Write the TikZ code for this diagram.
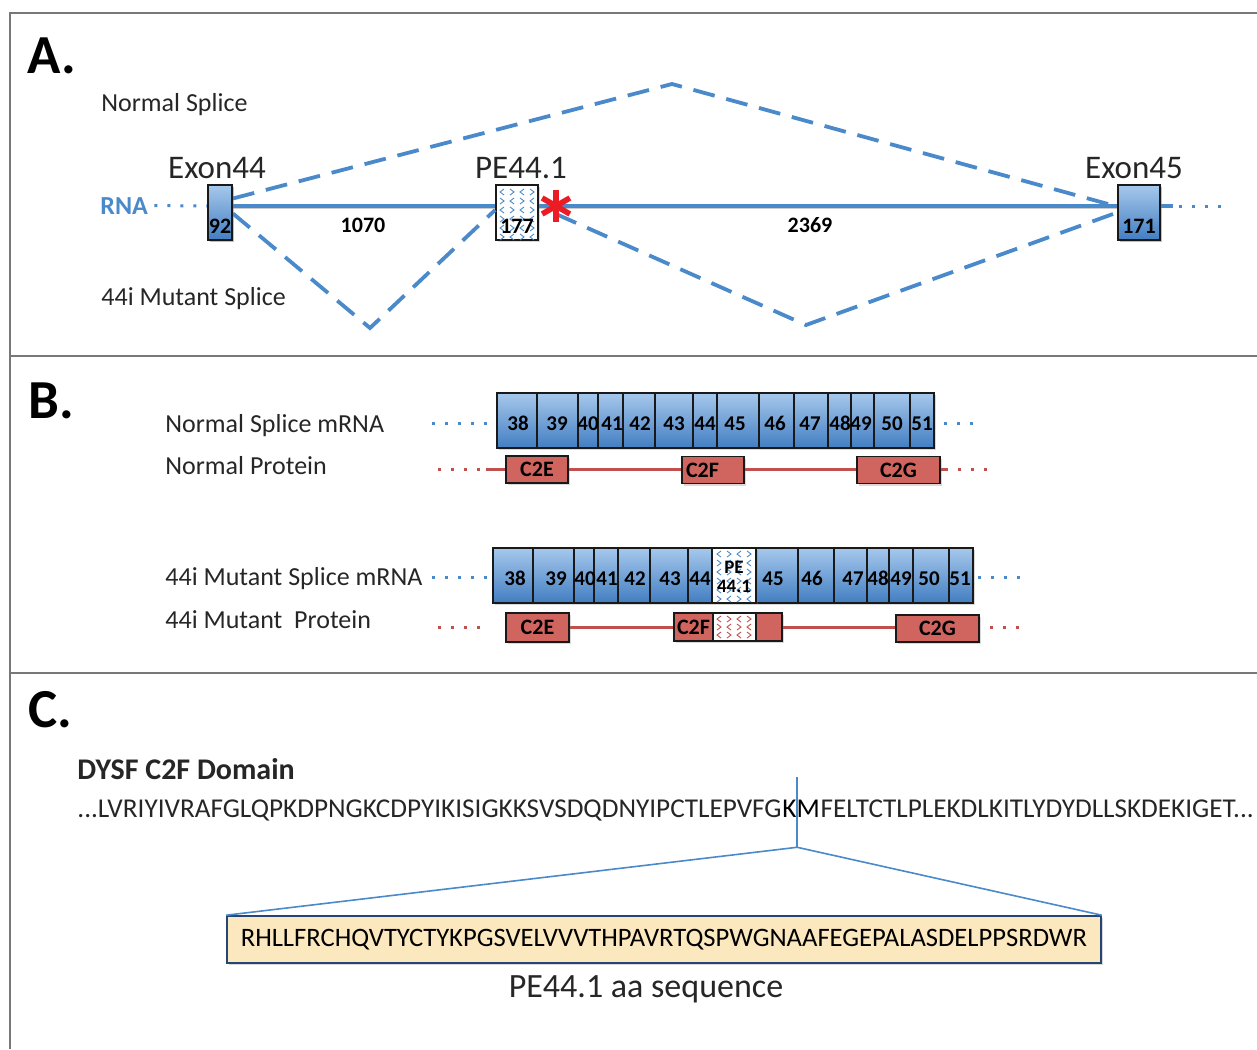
\documentclass[tikz,border=0pt]{standalone}
\usepackage{fontspec}
\setmainfont{Carlito}
\usetikzlibrary{shadows}

\definecolor{rnablue}{RGB}{74,138,202}
\definecolor{exontop}{RGB}{166,200,236}
\definecolor{exonbot}{RGB}{66,126,194}
\definecolor{domred}{RGB}{208,100,94}
\definecolor{bbred}{RGB}{192,80,77}
\definecolor{starred}{RGB}{236,28,36}
\definecolor{framegray}{RGB}{120,120,120}
\definecolor{aafill}{RGB}{252,232,190}
\definecolor{aaedge}{RGB}{38,68,118}
\definecolor{txt}{RGB}{38,38,38}

\tikzset{
  exon/.style={draw=black!90, line width=0.9pt, top color=exontop, bottom color=exonbot,
    drop shadow={shadow xshift=1pt, shadow yshift=-1pt, opacity=.3}},
  pebox/.style={draw=black!90, line width=0.9pt, fill=white,
    drop shadow={shadow xshift=1pt, shadow yshift=-1pt, opacity=.3}},
  dombox/.style={draw=black!90, line width=0.9pt, fill=domred,
    font=\fontsize{11}{13}\selectfont\bfseries, text=black,
    drop shadow={shadow xshift=1pt, shadow yshift=-1pt, opacity=.3}},
  splice/.style={rnablue, line width=1.9pt, dash pattern=on 11pt off 6pt},
  rnaline/.style={rnablue, line width=1.7pt},
  bluedots/.style={rnablue, line width=1.5pt, dash pattern=on 1.5pt off 5pt},
  reddots/.style={bbred, line width=1.5pt, dash pattern=on 1.5pt off 5pt},
  backbone/.style={bbred, line width=1.5pt},
  chev/.style={line width=0.45pt},
  num/.style={anchor=base, font=\fontsize{10.5}{12}\selectfont\bfseries, text=black},
  lab/.style={anchor=base west, font=\fontsize{13}{15}\selectfont},
  exlab/.style={anchor=base, font=\fontsize{16.5}{19}\selectfont},
  panel/.style={anchor=base west, font=\fontsize{27.5}{30}\selectfont\bfseries, text=black},
  seq/.style={anchor=base west, font=\fontsize{13.6}{16}\selectfont},
  frame/.style={framegray, line width=1pt}
}

\begin{document}
\begin{tikzpicture}[x=0.5pt, y=-0.5pt, every node/.style={inner sep=0pt, text=txt}]
\useasboundingbox (0,0) rectangle (1257,1049);

% outer frame and panel rules
\draw[frame] (10,1049) -- (10,13) -- (1257,13);
\draw[frame] (10,356) -- (1257,356);
\draw[frame] (10,673) -- (1257,673);

% ---------- A ----------
\path (27,73) node[panel] (pa) {A.};
\path (101,111) node[lab] (ns) {Normal Splice};
\path (101,305) node[lab] (ms) {44i Mutant Splice};

\path (220,212.5) node[exon, minimum width=12pt, minimum height=27.5pt] (e44) {};
\path (517,212.5) node[pebox, minimum width=21pt, minimum height=27.5pt] (pe) {};
\path (1139,212.5) node[exon, minimum width=21pt, minimum height=27.5pt] (e45) {};
\coordinate (up) at (672,84);
\coordinate (dn1) at (370,328);
\coordinate (dn2) at (806,325);
\coordinate (mut) at (556,206);
\coordinate (rnaend) at (1222,206);

% splice junctions
\draw[splice] ([yshift=7pt]e44.east) -- (up) -- ([yshift=3pt]e45.west);
\draw[splice] ([yshift=-0.5pt]e44.east) -- (dn1) -- ([yshift=1.25pt]pe.west);
\draw[splice] ([yshift=-4pt]mut) -- (dn2) -- ([yshift=0pt]e45.west);

% pre-mRNA strand
\path (100,214) node[anchor=base west, font=\fontsize{13}{15}\selectfont\bfseries, text=rnablue] (rna) {RNA};
\draw[bluedots] ([xshift=3pt]rna.east) -- ([yshift=3.25pt]e44.west);
\draw[black!40, line width=1.5pt, opacity=.5] ([yshift=2.4pt]e44.east) -- ([yshift=2.4pt]pe.west);
\draw[black!40, line width=1.5pt, opacity=.5] ([yshift=2.4pt]pe.east) -- ([yshift=2.4pt]e45.west);
\draw[rnaline] ([yshift=3.25pt]e44.east) -- ([yshift=3.25pt]pe.west);
\draw[rnaline] ([yshift=3.25pt]pe.east) -- ([yshift=3.25pt]e45.west);
\draw[rnaline] ([yshift=3.25pt]e45.east) -- +(6pt,0);
\draw[bluedots] ([xshift=9pt,yshift=3.25pt]e45.east) -- (rnaend);
\path (e44) node[exon, minimum width=12pt, minimum height=27.5pt] (e44b) {};
\path (e45) node[exon, minimum width=21pt, minimum height=27.5pt] (e45b) {};

% PE44.1 fill
\foreach \i in {0,...,3} \foreach \j in {0,...,5} {
  \pgfmathsetmacro\s{ifthenelse(mod(\i+\j,2)==0,1,-1)}
  \draw[chev, rnablue] ({502+10*\i+2*\s},{189+9*\j}) -- ++({-4*\s},3) -- ++({4*\s},3);
}

\path (220,233) node[num, font=\fontsize{11}{13}\selectfont\bfseries] (l92) {92};
\path (517,233) node[num, font=\fontsize{11}{13}\selectfont\bfseries] (l177) {177};
\path (1139,233) node[num, font=\fontsize{11}{13}\selectfont\bfseries] (l171) {171};
\path (217,178) node[exlab] (t44) {Exon44};
\path (521,178) node[exlab] (tpe) {PE44.1};
\path (1134,178) node[exlab] (t45) {Exon45};
\path (363,232) node[num, font=\fontsize{11}{13}\selectfont\bfseries] (i1) {1070};
\path (810,232) node[num, font=\fontsize{11}{13}\selectfont\bfseries] (i2) {2369};

% stop codon mark
\foreach \a in {90,30,150}
  \draw[starred, line width=2.8pt] ([shift=(\a:8pt)]mut) -- ([shift=(\a+180:8pt)]mut);

% ---------- B ----------
\path (28,418) node[panel] (pb) {B.};
\path (165,432) node[lab] (nm) {Normal Splice mRNA};
\path (165,474) node[lab] (np) {Normal Protein};
\path (165,585) node[lab] (mm) {44i Mutant Splice mRNA};
\path (165,628) node[lab] (mp) {44i Mutant\ \ Protein};

% normal mRNA
\draw[bluedots] (432,423) -- (495,423);
\draw[bluedots] (944,423) -- (982,423);
\foreach \a/\b in {497/537, 537/578, 578/598, 598/623, 623/655, 655/693, 693/717,
                   717/759, 759/794, 794/828, 828/851, 851/874, 874/910, 910/934}
  \draw[exon] (\a,393) rectangle (\b,448);
\foreach \x/\l in {518/38, 557/39, 588/40, 612/41, 640/42, 674/43, 705/44, 735/45,
                   775/46, 810/47, 840/48, 861/49, 892/50, 922/51}
  \path (\x,430) node[num] (nb\l) {\l};

% normal protein
\draw[reddots] (438,469) -- (484,469);
\draw[backbone] (486,469) -- (948,469);
\draw[reddots] (958,469) -- (992,469);
\path (537,469.5) node[dombox, minimum width=31pt, minimum height=13.5pt] (ne) {C2E};
\path (713,470) node[dombox, minimum width=31pt, minimum height=13.5pt, text width=27pt, align=left] (nf) {C2F};
\path (898.5,470) node[dombox, minimum width=41.5pt, minimum height=13.5pt] (ng) {C2G};

% mutant mRNA
\draw[bluedots] (432,577) -- (490,577);
\draw[bluedots] (978,577) -- (1025,577);
\foreach \a/\b in {493/533, 533/574, 574/594, 594/618, 618/650, 650/688, 688/712,
                   756/798, 798/834, 834/867, 867/889, 889/913, 913/949, 949/973}
  \draw[exon] (\a,548) rectangle (\b,603);
\draw[pebox] (712,548) rectangle (756,603);
\foreach \i in {0,...,3} \foreach \j in {0,...,5} {
  \pgfmathsetmacro\s{ifthenelse(mod(\i+\j,2)==0,1,-1)}
  \draw[chev, rnablue] ({719+10*\i+2*\s},{551+9*\j}) -- ++({-4*\s},3) -- ++({4*\s},3);
}
\foreach \x/\l in {515/38, 556/39, 585/40, 607/41, 635/42, 670/43, 700/44, 773/45,
                   812/46, 853/47, 878/48, 901/49, 929/50, 960/51}
  \path (\x,585) node[num] (mb\l) {\l};
\path (734,577) node[num, anchor=center, align=center, font=\fontsize{9.5}{9.5}\selectfont\bfseries] (mpe) {PE\\44.1};

% mutant protein
\draw[reddots] (438,627) -- (486,627);
\draw[backbone] (569,627) -- (896,627);
\draw[reddots] (990,627) -- (1026,627);
\path (537.5,627.5) node[dombox, minimum width=31.5pt, minimum height=14.5pt] (me) {C2E};
\path (693.5,627) node[dombox, minimum width=19.5pt, minimum height=14pt] (mf) {C2F};
\draw[pebox] (713,613) rectangle (756,641);
\foreach \i in {0,...,3} \foreach \j in {0,...,2} {
  \pgfmathsetmacro\s{ifthenelse(mod(\i+\j,2)==0,1,-1)}
  \draw[chev, bbred] ({719+10*\i+2*\s},{616+8*\j}) -- ++({-4*\s},3) -- ++({4*\s},3);
}
\draw[dombox] (756,613) rectangle (782,641);
\path (937.5,628.5) node[dombox, minimum width=41.5pt, minimum height=13.5pt] (mg) {C2G};

% ---------- C ----------
\path (28,727) node[panel] (pc) {C.};
\path (77,779) node[anchor=base west, font=\fontsize{15}{17}\selectfont\bfseries] (dom) {DYSF C2F Domain};
\path (77,817) node[seq] (s1) {...LVRIYIVRAFGLQPKDPNGKCDPYIKISIGKKSVSDQDNYIPCTLEPVFG};
\path (s1.base east) node[seq, text=black] (km) {KM};
\path (km.base east) node[seq] (s2) {FELTCTLPLEKDLKITLYDYDLLSKDEKIGET...};

\path (664,939.5) node[draw=aaedge, line width=0.8pt, fill=aafill, minimum width=437pt, minimum height=23.5pt,
  font=\fontsize{13.3}{15}\selectfont, text=black,
  drop shadow={shadow xshift=1pt, shadow yshift=-1pt, opacity=.3}] (aa)
  {RHLLFRCHQVTYCTYKPGSVELVVVTHPAVRTQSPWGNAAFEGEPALASDELPPSRDWR};
\path (646,997) node[anchor=base, font=\fontsize{17}{19}\selectfont] (aalab) {PE44.1 aa sequence};

\coordinate (kmtop) at ([xshift=-2pt,yshift=15.5pt]km.center);
\coordinate (fork) at ([xshift=-2pt,yshift=-19.5pt]km.center);
\draw[rnablue, line width=0.8pt] (kmtop) -- (fork);
\draw[rnablue, line width=0.8pt] (aa.north west) -- (fork) -- (aa.north east);
\end{tikzpicture}
\end{document}
